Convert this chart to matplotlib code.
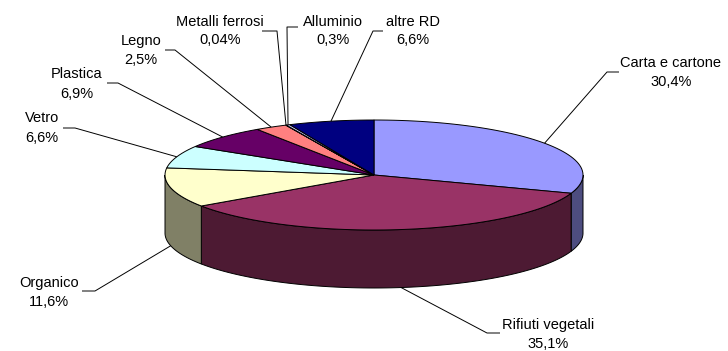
import numpy as np
import matplotlib
matplotlib.use("Agg")
import matplotlib.pyplot as plt
from matplotlib.patches import Polygon

plt.rcParams['font.family'] = ['Liberation Sans', 'DejaVu Sans']

# Composition of separately collected waste (percent)
categories = ["Carta e cartone", "Rifiuti vegetali", "Organico", "Vetro", "Plastica",
              "Legno", "Metalli ferrosi", "Alluminio", "altre RD"]
values = [30.4, 35.1, 11.6, 6.6, 6.9, 2.5, 0.04, 0.3, 6.6]
value_labels = ["30,4%", "35,1%", "11,6%", "6,6%", "6,9%", "2,5%", "0,04%", "0,3%", "6,6%"]
colors = ["#9999FF", "#993366", "#FFFFCC", "#CCFFFF", "#660066",
          "#FF8080", "#0066CC", "#CCCCFF", "#000080"]

# Pie geometry in pixel space (y grows downward)
CX, CY = 374.0, 175.0
RX, RY = 209.0, 55.0
DEPTH = 58.0

# Label layout: text centre (x, y), horizontal leader from x0 to x1 at y
label_pos = [(671, 72.5), (548, 334), (49, 292.5), (42, 128), (77, 84),
             (141, 51), (220, 31), (333, 31), (413, 31)]
leader_seg = [(607, 619, 72), (487, 500, 333), (95, 82, 291), (75, 63, 128),
              (118, 107, 83), (175, 165, 50), (277, 262, 31), (287, 298, 27),
              (373, 383, 31)]
FONT_SIZE = 10.5

W, H = 728, 351
fig = plt.figure(figsize=(W / 100, H / 100), dpi=100)
ax = fig.add_axes([0, 0, 1, 1])
ax.set_xlim(0, W)
ax.set_ylim(H, 0)
ax.axis("off")


def rim(theta, drop=0.0):
    return CX + RX * np.sin(theta), CY - RY * np.cos(theta) + drop


def shade(c):
    r, g, b = matplotlib.colors.to_rgb(c)
    return (r * 0.5, g * 0.5, b * 0.5)


vals = np.array(values, dtype=float)
fracs = vals / vals.sum()
bounds = np.concatenate([[0], np.cumsum(fracs)]) * 2 * np.pi
EW = 0.7

# Front side walls (only the half facing the viewer)
for i in range(len(vals)):
    a0, a1 = max(bounds[i], np.pi / 2), min(bounds[i + 1], 3 * np.pi / 2)
    if a1 <= a0:
        continue
    t = np.linspace(a0, a1, 80)
    xt, yt = rim(t)
    xb, yb = rim(t[::-1], DEPTH)
    pts = np.column_stack([np.concatenate([xt, xb]), np.concatenate([yt, yb])])
    ax.add_patch(Polygon(pts, closed=True, facecolor=shade(colors[i]),
                         edgecolor="black", linewidth=EW, zorder=2))

# Top faces
for i in range(len(vals)):
    n = max(int(200 * fracs[i]), 3)
    t = np.linspace(bounds[i], bounds[i + 1], n)
    xt, yt = rim(t)
    pts = np.column_stack([np.concatenate([[CX], xt]), np.concatenate([[CY], yt])])
    ax.add_patch(Polygon(pts, closed=True, facecolor=colors[i],
                         edgecolor="black", linewidth=EW, zorder=3,
                         joinstyle="miter"))

# Labels with leader lines
for i, (name, lab) in enumerate(zip(categories, value_labels)):
    mid = (bounds[i] + bounds[i + 1]) / 2
    front = np.pi / 2 < mid < 3 * np.pi / 2
    px, py = rim(mid, DEPTH if front else 0.0)
    x0, x1, ly = leader_seg[i]
    ax.plot([px, x0, x1], [py, ly, ly], color="black", linewidth=0.7,
            zorder=4, solid_capstyle="butt")
    tx, ty = label_pos[i]
    ax.text(tx, ty - 9.5, name, ha="center", va="center", fontsize=FONT_SIZE,
            color="black", zorder=5)
    ax.text(tx, ty + 9.5, lab, ha="center", va="center", fontsize=FONT_SIZE,
            color="black", zorder=5)

fig.savefig("out.png", dpi=100, facecolor="white")
